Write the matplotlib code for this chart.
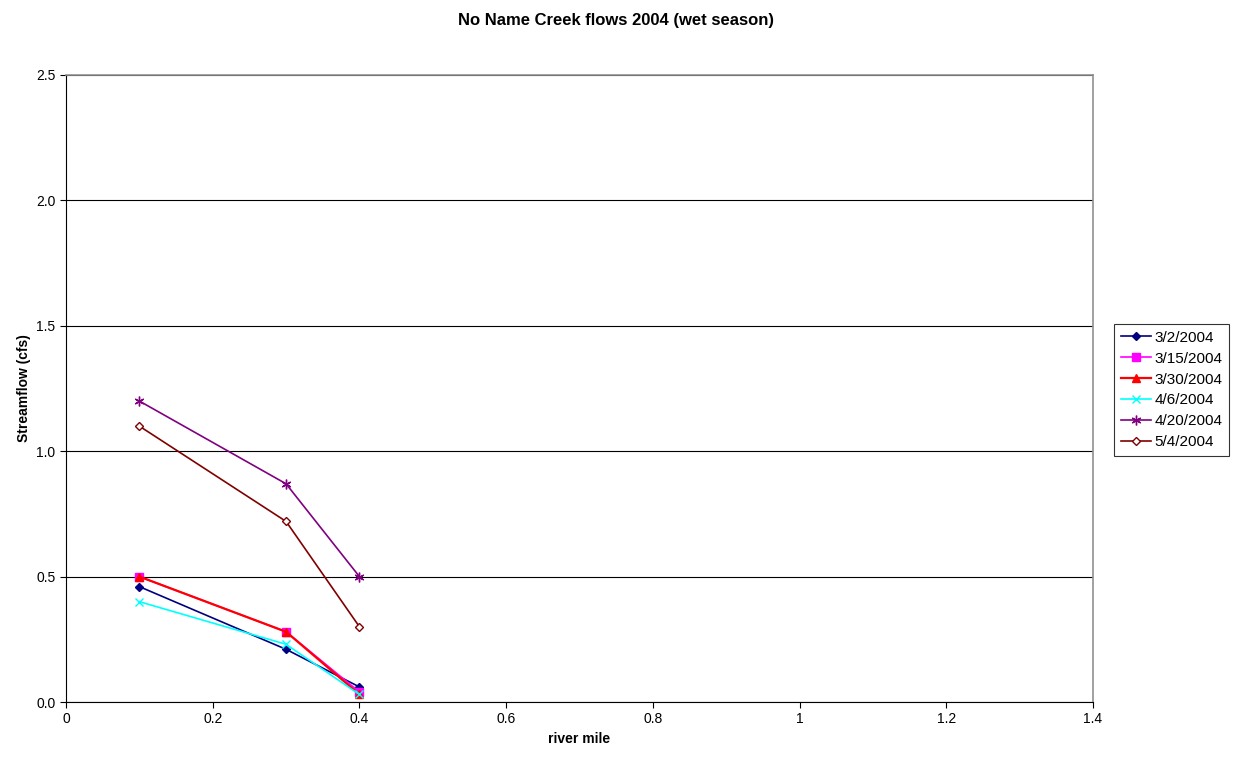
import matplotlib
matplotlib.use("Agg")
import matplotlib.pyplot as plt

river_mile = [0.1, 0.3, 0.4]
labels = ["3/2/2004", "3/15/2004", "3/30/2004", "4/6/2004", "4/20/2004", "5/4/2004"]
flow_0302 = [0.46, 0.21, 0.06]
flow_0315 = [0.50, 0.28, 0.04]
flow_0330 = [0.50, 0.28, 0.03]
flow_0406 = [0.40, 0.23, 0.03]
flow_0420 = [1.20, 0.87, 0.50]
flow_0504 = [1.10, 0.72, 0.30]
series = [flow_0302, flow_0315, flow_0330, flow_0406, flow_0420, flow_0504]

colors = ["#000080", "#FF00FF", "#FF0000", "#00FFFF", "#800080", "#800000"]
markers = ["D", "s", "^", "x", (6, 2, 0), "D"]
msizes = [4.5, 5.5, 5.5, 5.5, 7, 4.5]
mfaces = ["#000080", "#FF00FF", "#FF0000", "#00FFFF", "#800080", "white"]

plt.rcParams['font.family'] = ['Liberation Sans', 'DejaVu Sans']
fig = plt.figure(figsize=(12.33, 7.65), dpi=100)
ax = fig.add_axes([66/1233, 1-702/765, (1093-66)/1233, (702-75)/765])

for vals, lab, c, m, ms, mf in zip(series, labels, colors, markers, msizes, mfaces):
    ax.plot(river_mile, vals, color=c, marker=m, markersize=ms, markerfacecolor=mf,
            markeredgecolor=c, linewidth=1.2 if c != "#FF0000" else 1.6, label=lab)

ax.set_xlim(0, 1.4)
ax.set_ylim(0, 2.5)
ax.set_xticks([0, 0.2, 0.4, 0.6, 0.8, 1.0, 1.2, 1.4])
ax.set_xticklabels(["0", "0.2", "0.4", "0.6", "0.8", "1", "1.2", "1.4"])
ax.set_yticks([0, 0.5, 1.0, 1.5, 2.0, 2.5])
ax.set_yticklabels(["0.0", "0.5", "1.0", "1.5", "2.0", "2.5"])
ax.yaxis.grid(True, color="black", linewidth=0.8)
ax.set_axisbelow(True)
for s in ["top", "right"]:
    ax.spines[s].set_color("#909090")
    ax.spines[s].set_linewidth(1.2)
ax.spines["left"].set_color("black")
ax.spines["bottom"].set_color("black")
ax.tick_params(axis="both", labelsize=10, direction="out", length=4, color="black")
ax.set_xlabel("river mile", fontsize=10, fontweight="bold")
ax.set_ylabel("Streamflow (cfs)", fontsize=10, fontweight="bold")
fig.suptitle("No Name Creek flows 2004 (wet season)", fontsize=12, fontweight="bold", y=1-20/765, va="center")

leg = ax.legend(loc="center left", bbox_to_anchor=(1114/1233, 1-390/765), bbox_transform=fig.transFigure,
                frameon=True, fancybox=False, edgecolor="black", fontsize=11, handlelength=2.0,
                borderpad=0.45, labelspacing=0.45, handletextpad=0.2, borderaxespad=0)
leg.get_frame().set_linewidth(0.8)

fig.savefig("out.png", dpi=100)
